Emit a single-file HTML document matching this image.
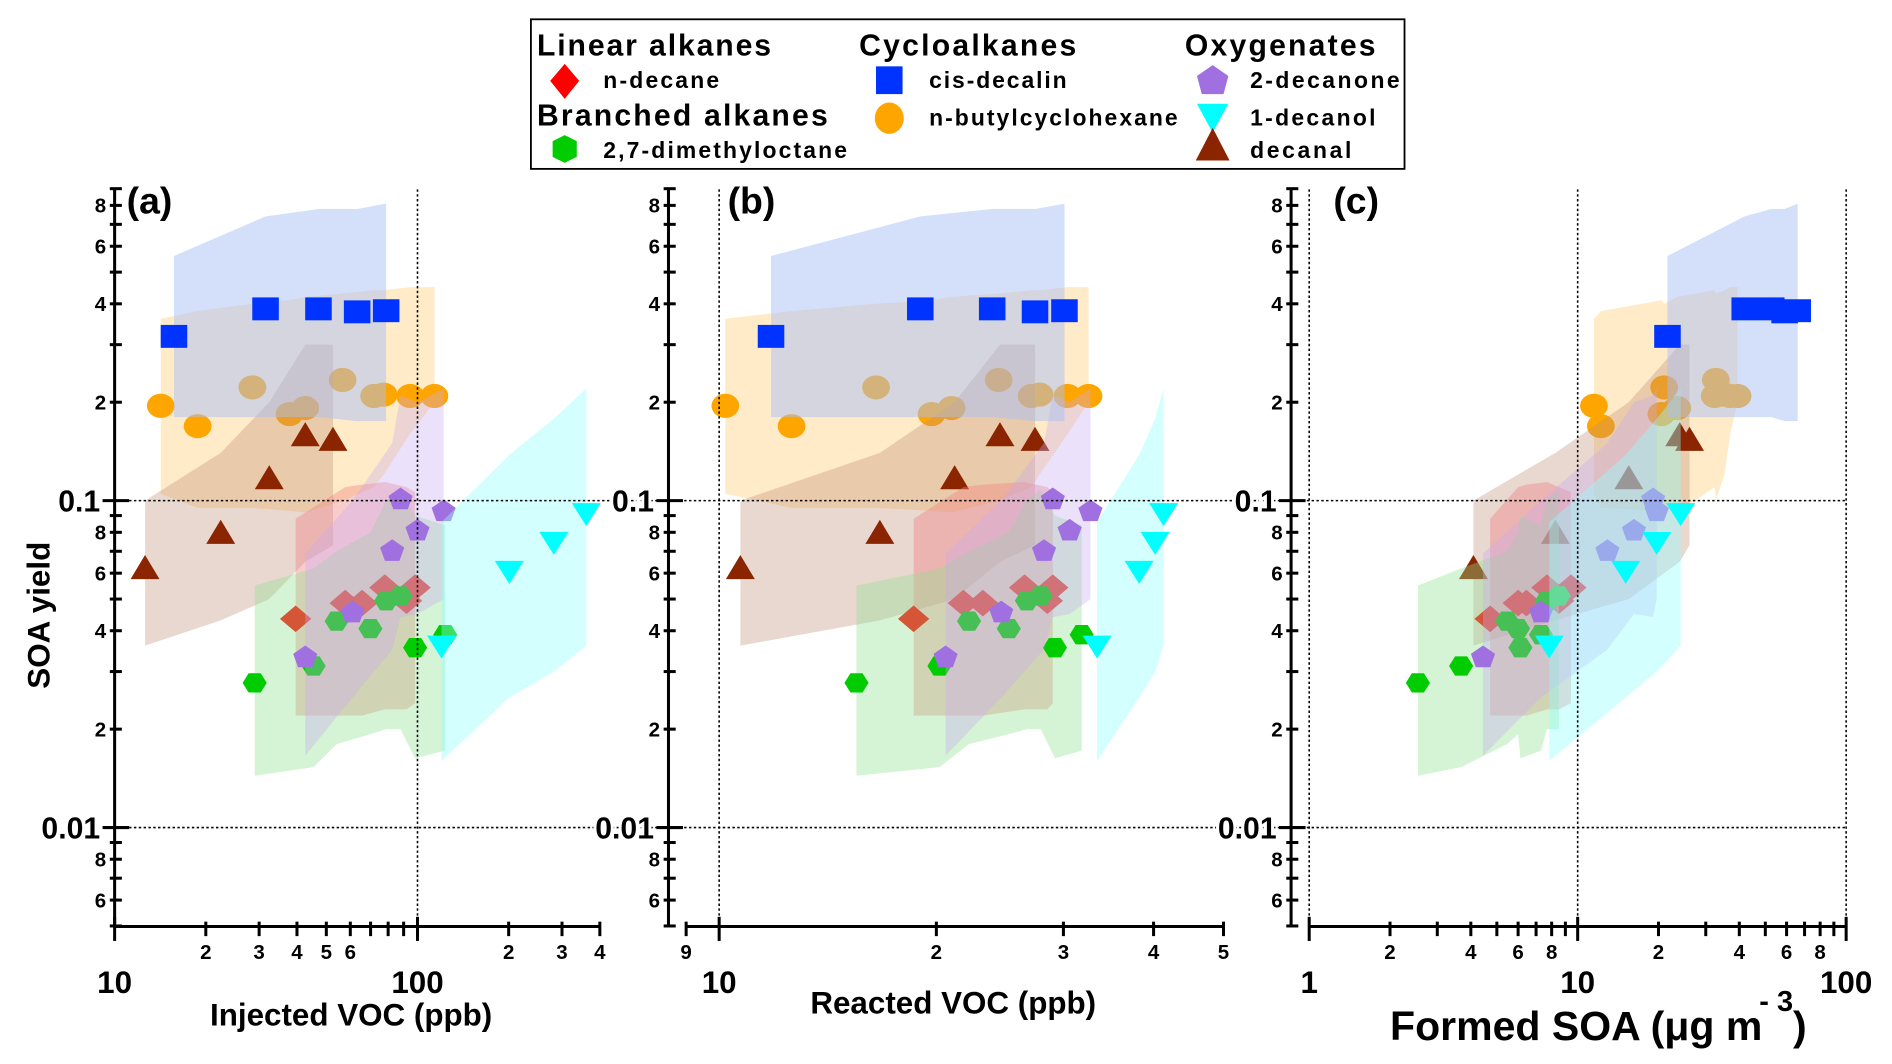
<!DOCTYPE html>
<html><head><meta charset="utf-8">
<style>
html,body{margin:0;padding:0;background:#fff;}
svg{display:block;font-family:"Liberation Sans",Arial,sans-serif;font-weight:bold;}
</style></head>
<body>
<svg id="chart" width="1892" height="1064" viewBox="0 0 1568 882" preserveAspectRatio="none" xmlns="http://www.w3.org/2000/svg">
<g id="bands"></g>
<g id="axes"></g>
<g id="legend">
  <rect x="440" y="16" width="724" height="124" fill="#fff" stroke="#000" stroke-width="1.5"/>
  <text x="445" y="46" font-size="25" textLength="194">Linear alkanes</text>
  <polygon points="468,53 480,67 468,82 456,67" fill="#ff0000"/>
  <text x="500" y="73" font-size="19" textLength="96">n-decane</text>
  <text x="445" y="104" font-size="25" textLength="241">Branched alkanes</text>
  <polygon points="468,112 478,117 478,130 468,135 458,130 458,117" fill="#00cc00"/>
  <text x="500" y="131" font-size="19" textLength="202">2,7-dimethyloctane</text>
  <text x="712" y="46" font-size="25" textLength="180">Cycloalkanes</text>
  <rect x="726" y="55" width="22" height="23" fill="#0033ff"/>
  <text x="770" y="73" font-size="19" textLength="114">cis-decalin</text>
  <ellipse cx="737" cy="98" rx="12" ry="13" fill="#ffa500"/>
  <text x="770" y="104" font-size="19" textLength="206">n-butylcyclohexane</text>
  <text x="982" y="46" font-size="25" textLength="158">Oxygenates</text>
  <polygon points="1005,54 1018,63 1014,78 996,78 992,63" fill="#a070e0"/>
  <text x="1036" y="73" font-size="19" textLength="124">2-decanone</text>
  <polygon points="992,86 1018,86 1005,110" fill="#00ffff"/>
  <text x="1036" y="104" font-size="19" textLength="104">1-decanol</text>
  <polygon points="1005,106 1019,133 991,133" fill="#8b2500"/>
  <text x="1036" y="131" font-size="19" textLength="84">decanal</text>
</g>
</svg>
<script>
// ---- data (yields shared across panels) ----
const decalinY = [0.318,0.386,0.386,0.378,0.381];
const decalinXa = [15.7,31.5,47.1,63.2,78.8];
const decalinXb = [11.8,19.0,23.9,27.4,30.1];
const decalinXc = [21.6,41.9,52.6,59,66];
const decalinHi = [0.56,0.74,0.78,0.78,0.81];
const decalinLo = [0.18,0.18,0.18,0.175,0.175];

const butylY = [0.195,0.169,0.222,0.184,0.192,0.234,0.209,0.211,0.209,0.209];
const butylXa = [14.2,18.8,28.5,37.8,42.6,56.6,71.9,77.3,94.6,113.7];
const butylXb = [10.2,12.6,16.5,19.7,21.0,24.4,27.1,27.8,30.4,32.5];
const butylXc = [11.5,12.2,21,20.5,23.5,32.7,32.4,35.2,37,39.4];
const butylHi = [0.36,0.38,0.40,0.41,0.42,0.43,0.44,0.44,0.45,0.45];
const butylLo = [0.105,0.095,0.095,0.093,0.092,0.1,0.11,0.12,0.16,0.2];

const decanalY = [0.0616,0.0789,0.116,0.157,0.152];
const decanalXa = [12.6,22.4,32.4,42.6,52.6];
const decanalXb = [10.7,16.7,21.2,24.5,27.4];
const decanalXc = [4.09,8.26,15.5,24,26.1];
const decanalHi = [0.1,0.14,0.2,0.3,0.3];
const decanalLo = [0.036,0.043,0.05,0.065,0.073];

const decaneY = [0.0435,0.0486,0.0486,0.0542,0.0542,0.0494];
const decaneXa = [39.6,57.7,65.6,78,98.2,92];
const decaneXb = [18.6,21.8,23.2,26.5,29.0,28.5];
const decaneXc = [4.72,6.0,6.44,7.68,9.44,8.51];
const decaneHi = [0.088,0.11,0.112,0.114,0.106,0.11];
const decaneLo = [0.022,0.022,0.022,0.023,0.024,0.023];

const dmoY = [0.0277,0.0312,0.0428,0.0406,0.0494,0.0511,0.0355,0.0389];
const dmoXa = [29,45.4,54.1,69.9,78.8,87.9,98.2,123.5];
const dmoXb = [15.5,20.2,22.2,25.2,26.7,27.9,29.2,31.8];
const dmoXc = [2.54,3.68,5.46,6.0,7.68,8.51,6.12,7.3];
const dmoHi = [0.055,0.062,0.07,0.08,0.1,0.108,0.09,0.084];
const dmoLo = [0.0144,0.0153,0.018,0.0193,0.02,0.02,0.0163,0.0172];

const decanoneY = [0.0334,0.0458,0.0706,0.1016,0.0815,0.0934];
const decanoneXa = [42.6,61,82.5,87.9,100,122];
const decanoneXb = [20.6,24.6,28.2,29.0,30.6,32.7];
const decanoneXc = [4.44,7.3,12.9,19.1,16.2,19.7];
const decanoneHi = [0.069,0.1,0.15,0.21,0.2,0.22];
const decanoneLo = [0.0166,0.025,0.035,0.044,0.045,0.05];

const decanolY = [0.0358,0.0606,0.0743,0.091];
const decanolXa = [120,201,282,361];
const decanolXb = [33.4,38.2,40.2,41.3];
const decanolXc = [7.84,15.1,19.7,24.2];
const decanolHi = [0.086,0.138,0.178,0.22];
const decanolLo = [0.016,0.025,0.030,0.036];

const ytickLabels = ["8","6","4","2","0.1","8","6","4","2","0.01","8","6"];
const ytickVals = [0.8,0.6,0.4,0.2,0.1,0.08,0.06,0.04,0.02,0.01,0.008,0.006];

// ---- scales ----
const Y = v => 415 - 271*Math.log10(v/0.1);
const XA = v => 95 + 251*Math.log10(v/10);
const XB = v => 596 + 598*Math.log10(v/10);
const XC = v => 1085 + 222.5*Math.log10(v);

const NS = "http://www.w3.org/2000/svg";
const bandsG = document.getElementById('bands');
const axesG = document.getElementById('axes');
function mk(tag, attrs, parent){
  const e = document.createElementNS(NS, tag);
  for (const k in attrs) e.setAttribute(k, attrs[k]);
  parent.appendChild(e);
  return e;
}

const series = [
  {key:'butylcyclohexane', y:butylY, xs:[butylXa,butylXb,butylXc], hi:butylHi, lo:butylLo, band:'#ffd890', bo:0.5, color:'#ffa500', shape:'circle'},
  {key:'decanal', y:decanalY, xs:[decanalXa,decanalXb,decanalXc], hi:decanalHi, lo:decanalLo, band:'#c09078', bo:0.35, color:'#8b2500', shape:'tri'},
  {key:'n-decane', y:decaneY, xs:[decaneXa,decaneXb,decaneXc], hi:decaneHi, lo:decaneLo, band:'#f08080', bo:0.4, color:'#ff0000', shape:'diamond'},
  {key:'dimethyloctane', y:dmoY, xs:[dmoXa,dmoXb,dmoXc], hi:dmoHi, lo:dmoLo, band:'#90e090', bo:0.38, color:'#00cc00', shape:'hex'},
  {key:'2-decanone', y:decanoneY, xs:[decanoneXa,decanoneXb,decanoneXc], hi:decanoneHi, lo:decanoneLo, band:'#c8a8f0', bo:0.35, color:'#a070e0', shape:'pent'},
  {key:'1-decanol', y:decanolY, xs:[decanolXa,decanolXb,decanolXc], hi:decanolHi, lo:decanolLo, band:'#90ffff', bo:0.4, color:'#00ffff', shape:'itri'},
  {key:'cis-decalin', y:decalinY, xs:[decalinXa,decalinXb,decalinXc], hi:decalinHi, lo:decalinLo, band:'#aabff5', bo:0.5, color:'#0033ff', shape:'square'}
];
const scales = [XA, XB, XC];
const panelNames = ['a','b','c'];

function marker(shape, cx, cy, color, parent){
  let e;
  if (shape==='circle') e = mk('ellipse',{cx:cx,cy:cy,rx:11.5,ry:10,fill:color},parent);
  else if (shape==='square') e = mk('rect',{x:cx-11,y:cy-9.5,width:22,height:19,fill:color},parent);
  else if (shape==='tri') e = mk('polygon',{points:`${cx},${cy-12} ${cx+12},${cy+8} ${cx-12},${cy+8}`,fill:color},parent);
  else if (shape==='itri') e = mk('polygon',{points:`${cx-12},${cy-9} ${cx+12},${cy-9} ${cx},${cy+10}`,fill:color},parent);
  else if (shape==='diamond') e = mk('polygon',{points:`${cx},${cy-11} ${cx+13},${cy} ${cx},${cy+11} ${cx-13},${cy}`,fill:color},parent);
  else if (shape==='hex') e = mk('polygon',{points:`${cx-10},${cy} ${cx-5},${cy-8} ${cx+5},${cy-8} ${cx+10},${cy} ${cx+5},${cy+8} ${cx-5},${cy+8}`,fill:color},parent);
  else e = mk('polygon',{points:`${cx},${cy-9} ${cx+10},${cy-2} ${cx+6},${cy+9} ${cx-6},${cy+9} ${cx-10},${cy-2}`,fill:color},parent);
  return e;
}

for (let p=0;p<3;p++){
  const X = scales[p];
  for (const s of series){
    const xs = s.xs[p];
    const idx = xs.map((v,i)=>i).sort((a,b)=>xs[a]-xs[b]);
    const top = idx.map(i=>`${X(xs[i]).toFixed(1)},${Y(s.hi[i]).toFixed(1)}`);
    const bot = idx.slice().reverse().map(i=>`${X(xs[i]).toFixed(1)},${Y(s.lo[i]).toFixed(1)}`);
    const band = mk('polygon',{points:top.concat(bot).join(' '),fill:s.band,'fill-opacity':s.bo},bandsG);
    
    
    for (let i=0;i<xs.length;i++){
      const m = marker(s.shape, X(xs[i]), Y(s.y[i]), s.color, bandsG);
      
      
    }
  }
}

// ---- axes ----
function line(x1,y1,x2,y2,name,extra){
  const e = mk('line',Object.assign({x1:x1,y1:y1,x2:x2,y2:y2,stroke:'#000','stroke-width':2.5},extra||{}),axesG);
  
  
  return e;
}
function text(x,y,str,size,anchor,name){
  const e = mk('text',{x:x,y:y,'font-size':size,'text-anchor':anchor||'middle'},axesG);
  e.textContent = str;
  
  
  return e;
}
const dot = {'stroke-width':1.3,'stroke-dasharray':'2,2'};
line(95,Y(0.1),1530,Y(0.1),'gridline-0.1',dot);
line(95,Y(0.01),1530,Y(0.01),'gridline-0.01',dot);
line(XA(100),157,XA(100),768,'gridline-a-100',dot);
line(XB(10),157,XB(10),768,'gridline-b-10',dot);
line(XC(1),157,XC(1),768,'gridline-c-1',dot);
line(XC(10),157,XC(10),768,'gridline-c-10',dot);
line(XC(100),157,XC(100),768,'gridline-c-100',dot);

const yAxes = [95, 554, 1070];
yAxes.forEach((ax,p)=>{
  line(ax,157,ax,768,`y-axis-${panelNames[p]}`);
  for (let d of [0.001,0.01,0.1]){
    for (let k=1;k<10;k++){
      const v=d*k; if (v<0.005||v>0.9) continue;
      const yy=Y(v);
      if (k===1) line(ax-10,yy,ax+12,yy,`y-major-tick-${panelNames[p]}`);
      else line(ax-4,yy,ax+6,yy,`y-minor-tick-${panelNames[p]}`);
    }
  }
  ytickLabels.forEach((lab,i)=>{
    const big = lab.indexOf('0.')===0;
    const t = text(ax-(big?12:7), Y(ytickVals[i])+(big?9:6), lab, big?25:17, 'end', `y-tick-label-${panelNames[p]}`);
    if (big){ t.setAttribute('stroke','#fff'); t.setAttribute('stroke-width','5'); t.setAttribute('paint-order','stroke'); }
  });
});

function xAxis(p, X, vmin, vmax, decs, labels, bigLabels){
  const yA = 768;
  line(X(vmin),yA,X(vmax),yA,`x-axis-${panelNames[p]}`);
  for (const d of decs){
    for (let k=1;k<10;k++){
      const v=d*k; if (v<vmin-1e-9||v>vmax+1e-9) continue;
      if (k===1) line(X(v),yA-8,X(v),yA+12,`x-major-tick-${panelNames[p]}`);
      else line(X(v),yA-4,X(v),yA+8,`x-minor-tick-${panelNames[p]}`);
    }
  }
  labels.forEach(l=>text(X(l[0]),yA+27,l[1],17,'middle',`x-tick-label-${panelNames[p]}`));
  bigLabels.forEach(l=>text(X(l[0]),yA+55,l[1],26,'middle',`x-decade-label-${panelNames[p]}`));
}
xAxis(0, XA, 10, 400, [10,100], [[20,'2'],[30,'3'],[40,'4'],[50,'5'],[60,'6'],[200,'2'],[300,'3'],[400,'4']], [[10,'10'],[100,'100']]);
xAxis(1, XB, 9, 50, [1,10], [[9,'9'],[20,'2'],[30,'3'],[40,'4'],[50,'5']], [[10,'10']]);
xAxis(2, XC, 1, 100, [1,10,100], [[2,'2'],[4,'4'],[6,'6'],[8,'8'],[20,'2'],[40,'4'],[60,'6'],[80,'8']], [[1,'1'],[10,'10'],[100,'100']]);

text(291,850,'Injected VOC (ppb)',26,'middle','x-axis-title-a');
text(790,840,'Reacted VOC (ppb)',26,'middle','x-axis-title-b');
text(1152,862,'Formed SOA (μg m',34,'start','x-axis-title-c');
text(1458,838,'- 3',24,'start','x-axis-title-c-superscript');
text(1486,862,')',34,'start','x-axis-title-c-paren');
const yt = text(0,0,'SOA yield',26,'middle','y-axis-title');
yt.setAttribute('transform','translate(41,510) rotate(-90)');
text(105,177,'(a)',31,'start','panel-label-a');
text(603,177,'(b)',31,'start','panel-label-b');
text(1105,177,'(c)',31,'start','panel-label-c');
</script>
</body></html>
